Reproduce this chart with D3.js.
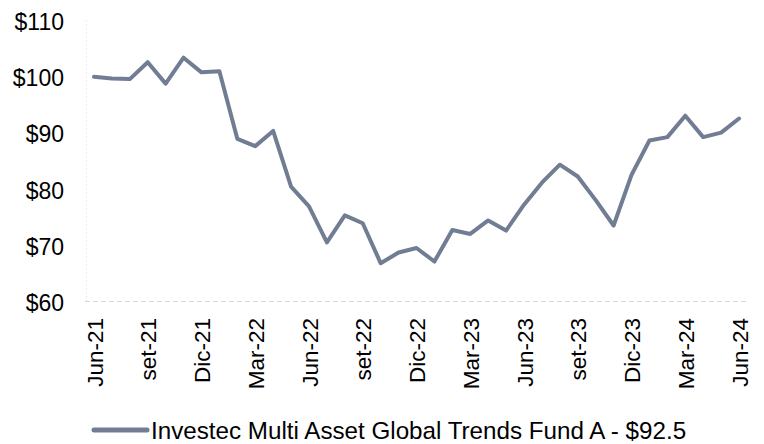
<!DOCTYPE html>
<html>
<head>
<meta charset="utf-8">
<script src="https://cdn.jsdelivr.net/npm/d3@7"></script>
<style>
  body { margin: 0; background: #fff; }
  svg { display: block; font-family: "Liberation Sans", Arial, sans-serif; }
</style>
</head>
<body>
<div class="center"></div>
<script>
// monthly categories, Jun-21 .. Jun-24
const months = ["Jun-21","Jul-21","Ago-21","set-21","Oct-21","Nov-21","Dic-21","Ene-22","Feb-22","Mar-22","Abr-22","May-22",
                "Jun-22","Jul-22","Ago-22","set-22","Oct-22","Nov-22","Dic-22","Ene-23","Feb-23","Mar-23","Abr-23","May-23",
                "Jun-23","Jul-23","Ago-23","set-23","Oct-23","Nov-23","Dic-23","Ene-24","Feb-24","Mar-24","Abr-24","May-24",
                "Jun-24"];

// fund value (USD)
const fundValues = [99.9, 99.6, 99.5, 102.5, 98.7, 103.3, 100.7, 100.9, 88.9, 87.6, 90.3, 80.4,
                    76.9, 70.5, 75.3, 73.9, 66.8, 68.7, 69.5, 67.1, 72.7, 72.0, 74.4, 72.6,
                    77.2, 81.1, 84.3, 82.2, 78.0, 73.5, 82.5, 88.6, 89.2, 93.0, 89.2, 90.0,
                    92.5];

const yTicks = [60, 70, 80, 90, 100, 110];
const legendLabel = "Investec Multi Asset Global Trends Fund A - $92.5";

const width = 764, height = 444;
const lineColor = "#717d93";

const svg = d3.select(".center").append("svg")
    .attr("width", width)
    .attr("height", height);

// set the ranges
const xScale = d3.scalePoint()
    .domain(months)
    .range([85, 748])
    .padding(0.5);
const yScale = d3.scaleLinear()
    .domain([60, 110])
    .range([301.5, 20]);

// faint y axis line
svg.append("line")
   .attr("x1", 86.5).attr("x2", 86.5)
   .attr("y1", yScale(110)).attr("y2", yScale(60))
   .attr("stroke", "#eeeeee")
   .attr("stroke-dasharray", "2,2");

// baseline gridline
svg.append("line")
   .attr("x1", 85).attr("x2", 748)
   .attr("y1", yScale(60)).attr("y2", yScale(60))
   .attr("stroke", "#d6d6d6")
   .attr("stroke-width", 1.2)
   .attr("stroke-dasharray", "5,3");

// y axis labels
const yAxis = d3.axisLeft(yScale)
    .tickValues(yTicks)
    .tickSize(0)
    .tickPadding(0)
    .tickFormat(d => "$" + d);
svg.append("g")
   .attr("transform", "translate(64,0)")
   .call(yAxis)
   .call(g => g.select(".domain").remove())
   .selectAll("text")
   .attr("font-family", "Liberation Sans, Arial, sans-serif")
   .attr("font-size", "23px")
   .attr("fill", "#000")
   .attr("dy", "0.4em");

// x axis labels, every third month
const xAxis = d3.axisBottom(xScale)
    .tickValues(months.filter((d, i) => i % 3 === 0))
    .tickSize(0)
    .tickPadding(0);
svg.append("g")
   .attr("transform", "translate(0,318)")
   .call(xAxis)
   .call(g => g.select(".domain").remove())
   .selectAll("text")
   .attr("font-family", "Liberation Sans, Arial, sans-serif")
   .attr("font-size", "22.5px")
   .attr("fill", "#000")
   .attr("text-anchor", "end")
   .attr("transform", "rotate(-90)")
   .attr("x", 0)
   .attr("y", 0)
   .attr("dy", "0.36em");

// the line
const line = d3.line()
    .x((d, i) => xScale(months[i]))
    .y(d => yScale(d));
svg.append("path")
   .datum(fundValues)
   .attr("d", line)
   .attr("fill", "none")
   .attr("stroke", lineColor)
   .attr("stroke-width", 4)
   .attr("stroke-linejoin", "round")
   .attr("stroke-linecap", "round");

// legend
svg.append("line")
   .attr("x1", 94).attr("x2", 147)
   .attr("y1", 430).attr("y2", 430)
   .attr("stroke", lineColor)
   .attr("stroke-width", 5)
   .attr("stroke-linecap", "round");
svg.append("text")
   .attr("x", 151)
   .attr("y", 438.5)
   .attr("font-size", "24.2px")
   .attr("fill", "#000")
   .text(legendLabel);
</script>
</body>
</html>
